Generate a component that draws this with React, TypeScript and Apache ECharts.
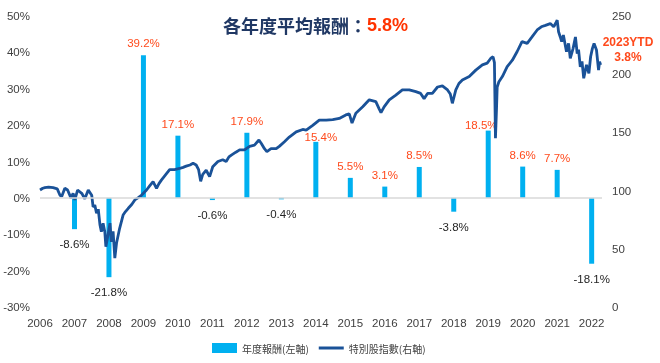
import React, { useEffect, useRef } from "react";
import * as echarts from "echarts";

const barYears = [2007, 2008, 2009, 2010, 2011, 2012, 2013, 2014, 2015, 2016, 2017, 2018, 2019, 2020, 2021, 2022];
const barReturns = [-8.6, -21.8, 39.2, 17.1, -0.6, 17.9, -0.4, 15.4, 5.5, 3.1, 8.5, -3.8, 18.5, 8.6, 7.7, -18.1];

const indexDates = [
  2006.0, 2006.08, 2006.14, 2006.25, 2006.38, 2006.5, 2006.58, 2006.63, 2006.72, 2006.8,
  2006.9, 2006.96, 2007.01, 2007.09, 2007.21, 2007.3, 2007.4, 2007.5, 2007.54, 2007.59,
  2007.64, 2007.69, 2007.74, 2007.78, 2007.83, 2007.88, 2007.91, 2007.96, 2008.03, 2008.07,
  2008.12, 2008.17, 2008.22, 2008.31, 2008.41, 2008.48, 2008.56, 2008.66, 2008.75, 2008.85,
  2008.94, 2009.09, 2009.18, 2009.28, 2009.38, 2009.45, 2009.52, 2009.6, 2009.68, 2009.76,
  2009.9, 2010.05, 2010.15, 2010.24, 2010.35, 2010.44, 2010.53, 2010.6, 2010.66, 2010.72,
  2010.82, 2010.92, 2011.01, 2011.16, 2011.3, 2011.4, 2011.48, 2011.55, 2011.68, 2011.79,
  2011.93, 2012.08, 2012.22, 2012.35, 2012.42, 2012.51, 2012.58, 2012.7, 2012.85, 2012.94,
  2013.09, 2013.23, 2013.43, 2013.62, 2013.72, 2013.91, 2014.1, 2014.3, 2014.49, 2014.68,
  2014.87, 2014.97, 2015.05, 2015.16, 2015.36, 2015.55, 2015.74, 2015.84, 2015.89, 2015.98,
  2016.13, 2016.32, 2016.51, 2016.71, 2016.9, 2017.04, 2017.14, 2017.24, 2017.38, 2017.53,
  2017.67, 2017.82, 2017.9, 2017.96, 2018.06, 2018.15, 2018.25, 2018.45, 2018.64, 2018.83,
  2018.97, 2019.07, 2019.14, 2019.18, 2019.21, 2019.24, 2019.26, 2019.31, 2019.41, 2019.55,
  2019.7, 2019.84, 2019.98, 2020.13, 2020.27, 2020.42, 2020.56, 2020.66, 2020.8, 2020.9,
  2020.96, 2021.0, 2021.04, 2021.09, 2021.13, 2021.18, 2021.27, 2021.33, 2021.38, 2021.46,
  2021.53, 2021.58, 2021.62, 2021.67, 2021.72, 2021.77, 2021.85, 2021.92, 2021.97, 2022.02,
  2022.07, 2022.14, 2022.2, 2022.23, 2022.26,
];
const indexValues = [
  100.5, 102, 102.5, 103, 102.5, 101.5, 96, 95, 102, 100.5,
  93.5, 97.7, 92, 100.5, 97.7, 93, 100.5, 96, 86, 87.5,
  80.5, 84, 70.4, 64.7, 72, 64.7, 51.8, 60, 72, 56,
  65, 42, 55, 67.6, 79, 82, 84.8, 88, 92, 94,
  96, 100.5, 104, 107.7, 102, 106, 109, 112, 115, 118,
  118, 119, 120, 121, 122, 123.5, 122, 118, 108, 114,
  117.5, 112, 120.5, 125, 126.5, 125, 129, 130.5, 133, 135,
  135, 138, 139, 143.5, 140.5, 136, 133.5, 136, 136, 138,
  142, 146, 150.5, 152.5, 152, 156, 160.5, 160.5, 161, 162,
  165, 166, 158, 166.5, 172, 178, 176.5, 170, 167, 172,
  178, 182, 186.5, 186.5, 185, 183.5, 179, 183.5, 183.5, 189,
  190, 186.5, 183, 175, 186.5, 192, 195, 198, 203.5, 208,
  209.5, 213.5, 215, 210, 145, 170, 189, 193.5, 198, 206.5,
  212, 219.5, 228, 226.5, 232, 238, 241, 242, 243.5, 240.8,
  244, 246.5, 236.5, 232, 228, 233.6, 219.3, 226.5, 213.6, 222,
  232, 217.8, 221, 206.4, 211, 196.5, 208, 200.8, 215, 222,
  226.5, 220.8, 203.6, 210.7, 208,
];

const leftTicks = { min: -30, max: 50, interval: 10 };
const rightTicks = { min: 0, max: 250, interval: 50 };
const xRange = { min: 2006, max: 2022.3 };

const titleMain = "各年度平均報酬：";
const titleValue = "5.8%";
const ytdLabel = "2023YTD";
const ytdValue = "3.8%";
const barName = "年度報酬(左軸)";
const lineName = "特別股指數(右軸)";

const NUM_FONT = "'Liberation Sans', Arial, sans-serif";
const CJK_FONT = "'Noto Sans CJK TC', 'Noto Sans CJK SC', sans-serif";
const RED = "#FF4A1C";
const LINE_BLUE = "#1A5298";

export default function App() {
  const ref = useRef<HTMLDivElement>(null);
  useEffect(() => {
    if (!ref.current) return;
    const chart = echarts.init(ref.current, undefined, { renderer: "svg" });

    const barData = barYears.map((y, i) => {
      const v = barReturns[i];
      const pos = v >= 0;
      const label: any = {
        show: true,
        position: pos ? "top" : "bottom",
        distance: pos ? 6 : 9,
        color: pos ? RED : "#262626",
        fontSize: 11.5,
        fontFamily: NUM_FONT,
        formatter: () => `${v}%`,
      };
      if (y === 2019) label.offset = [-7, 6];
      if (y === 2014) label.offset = [5, 7];
      return { value: [y, v], label };
    });
    const lineData = indexDates.map((d, i) => [d, indexValues[i]]);

    chart.setOption({
      animation: false,
      grid: { left: 40, right: 58, top: 16, bottom: 56, containLabel: false },
      xAxis: {
        type: "value",
        min: xRange.min,
        max: xRange.max,
        interval: 1,
        axisLine: { show: false },
        axisTick: { show: false },
        splitLine: { show: false },
        axisLabel: {
          margin: 10,
          color: "#404040",
          fontSize: 11.5,
          fontFamily: NUM_FONT,
          formatter: (v: number) => (Math.abs(v - Math.round(v)) < 1e-6 ? String(Math.round(v)) : ""),
        },
      },
      yAxis: [
        {
          type: "value",
          min: leftTicks.min,
          max: leftTicks.max,
          interval: leftTicks.interval,
          axisLine: { show: false },
          axisTick: { show: false },
          splitLine: { show: false },
          axisLabel: { margin: 10, color: "#404040", fontSize: 11.5, fontFamily: NUM_FONT, formatter: "{value}%" },
        },
        {
          type: "value",
          min: rightTicks.min,
          max: rightTicks.max,
          interval: rightTicks.interval,
          axisLine: { show: false },
          axisTick: { show: false },
          splitLine: { show: false },
          axisLabel: { margin: 10, color: "#404040", fontSize: 11.5, fontFamily: NUM_FONT },
        },
      ],
      legend: {
        left: 212,
        top: 343,
        padding: 0,
        itemWidth: 25,
        itemHeight: 10,
        itemGap: 10,
        textStyle: { color: "#404040", fontSize: 10, fontFamily: CJK_FONT },
        data: [
          { name: barName, icon: "rect" },
          { name: lineName, icon: "path://M0,0 L25,0 L25,3 L0,3 Z", itemStyle: { color: LINE_BLUE } },
        ],
      },
      graphic: [
        {
          type: "text",
          x: 223,
          y: 25,
          style: {
            text: `{a|${titleMain}}{b|${titleValue}}`,
            verticalAlign: "middle",
            rich: {
              a: { fontSize: 18, fontWeight: "bold", fill: "#203864", fontFamily: CJK_FONT },
              b: { fontSize: 18, fontWeight: "bold", fill: "#FF3300", fontFamily: NUM_FONT },
            },
          },
        },
        {
          type: "text",
          x: 628,
          y: 42,
          style: { text: ytdLabel, fill: RED, fontSize: 12, fontWeight: "bold", fontFamily: NUM_FONT, align: "center", verticalAlign: "middle" },
        },
        {
          type: "text",
          x: 628,
          y: 57,
          style: { text: ytdValue, fill: RED, fontSize: 12, fontWeight: "bold", fontFamily: NUM_FONT, align: "center", verticalAlign: "middle" },
        },
      ],
      series: [
        {
          name: barName,
          type: "bar",
          yAxisIndex: 0,
          barWidth: 5,
          itemStyle: { color: "#00B0F0" },
          data: barData,
          markLine: {
            silent: true,
            symbol: ["none", "none"],
            label: { show: false },
            lineStyle: { color: "#D9D9D9", type: "solid", width: 1.5 },
            data: [{ yAxis: 0 }],
          },
        },
        {
          name: lineName,
          type: "line",
          yAxisIndex: 1,
          showSymbol: false,
          symbol: "none",
          lineStyle: { color: LINE_BLUE, width: 2.8 },
          itemStyle: { color: LINE_BLUE },
          data: lineData,
        },
      ],
    });
    return () => chart.dispose();
  }, []);
  return <div ref={ref} style={{ position: "fixed", left: 0, top: 0, width: 660, height: 363 }} />;
}
